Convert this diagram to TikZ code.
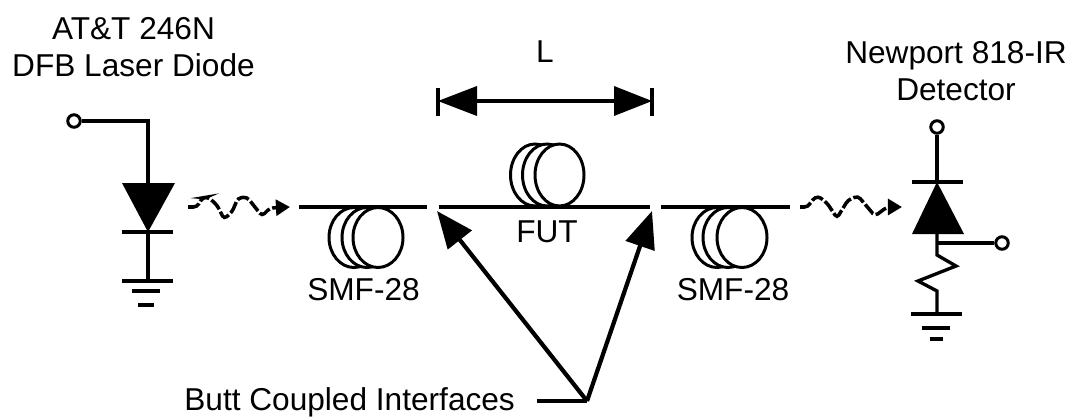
\documentclass[tikz,border=0pt]{standalone}
\usepackage{fontspec}
\setmainfont{Liberation Sans}
\usetikzlibrary{arrows.meta}
\tikzset{
  wire/.style={line width=1.9pt},
  bar/.style={line width=1.8pt},
  terminal/.style={circle,draw,line width=1.7pt,inner sep=0pt,minimum size=0.25cm,fill=white},
  solid tip/.style={fill=black,draw=none},
  spool/.style={line width=1.7pt,fill=white},
  label/.style={font=\fontsize{18}{21}\selectfont,align=center,inner sep=0pt},
  beam/.style={line width=2pt,dash pattern=on 7pt off 1.5pt,rounded corners=2pt},
  pointer/.style={line width=2.4pt,-{Triangle[length=21pt,width=17pt]}},
}
\begin{document}
\begin{tikzpicture}[x=0.02cm,y=-0.02cm]
  \useasboundingbox (0,0) rectangle (1070,416);

  % source
  \node[label] (source) at (133.5,47) {AT\&T 246N\\DFB Laser Diode};
  \node[terminal] (srcin) at (74,121) {};
  \coordinate (srctop) at (148,183);
  \coordinate (srcapex) at (148,232);
  \coordinate (srcgnd) at (148,281);
  \draw[wire] (srcin) -- (148,121) -- (srctop);
  \fill[solid tip] (122,183) -- (175,183) -- (srcapex) -- cycle;
  \draw[bar] (122,232) -- (173,232);
  \draw[wire] (srcapex) -- (srcgnd);
  \draw[bar] (122,281) -- (173,281);
  \draw[bar] (132,291) -- (160,291);
  \draw[bar] (138,305) -- (154,305);

  % detector
  \node[label] (det) at (956,71) {Newport 818-IR\\Detector};
  \node[terminal] (detout) at (937,127) {};
  \node[terminal] (detsig) at (1002,243) {};
  \coordinate (dettop) at (937,182);
  \coordinate (detbase) at (937,234);
  \coordinate (detgnd) at (937,314);
  \draw[wire] (detout) -- (dettop);
  \draw[bar] (912,182) -- (963,182);
  \fill[solid tip] (dettop) -- (964,234) -- (912,234) -- cycle;
  \draw[wire] (detsig) -- (937,243);
  \draw[wire] (detbase) -- (937,255) -- (956,266) -- (918,281) -- (937,291) -- (detgnd);
  \draw[bar] (911,314) -- (962,314);
  \draw[bar] (922,328) -- (950,328);
  \draw[bar] (930,339) -- (943,339);

  % spools
  \foreach \sx in {354,367,378} \draw[spool] (\sx,237.5) ellipse (25 and 30);
  \foreach \sx in {535,547,559.5} \draw[spool] (\sx,175) ellipse (24.5 and 31);
  \foreach \sx in {717,728,742} \draw[spool] (\sx,237.5) ellipse (25 and 30);

  % fibers
  \coordinate (fibera) at (299,207);
  \coordinate (fiberb) at (427,207);
  \coordinate (fiberc) at (439,207);
  \coordinate (fiberd) at (650,207);
  \coordinate (fibere) at (661,207);
  \coordinate (fiberf) at (790,207);
  \draw[wire] (fibera) -- (fiberb);
  \draw[wire] (fiberc) -- (fiberd);
  \draw[wire] (fibere) -- (fiberf);

  % labels
  \node[label] (smfl) at (363.5,289.5) {SMF-28};
  \node[label] (fut) at (547,232) {FUT};
  \node[label] (smfr) at (733,289.5) {SMF-28};
  \node[label] (len) at (545,52) {L};
  \node[label,anchor=west] (butt) at (184,402) {Butt Coupled Interfaces};

  % length marker
  \coordinate (lenl) at (438,101);
  \coordinate (lenr) at (652,101);
  \draw[bar] (438,88) -- (438,116);
  \draw[bar] (652,88) -- (652,116);
  \draw[wire] (475,101) -- (615,101);
  \fill[solid tip] (lenl) -- (477,86) -- (477,116) -- cycle;
  \fill[solid tip] (lenr) -- (614,86) -- (614,116) -- cycle;

  % beams
  \draw[beam,-{Triangle[length=8pt,width=9pt]}] (188,207) -- (197,207) -- (202,198) -- (208,197) -- (217,205) -- (224,219) -- (232,212) -- (238,198) -- (247,197) -- (262,216) -- (270,208) -- (290,207);
  \draw[beam,-{Triangle[length=8pt,width=9pt]}] (800,207) -- (808,207) -- (812,200) -- (818,196) -- (827,203) -- (837,218) -- (848,200) -- (858,196) -- (875,216) -- (887,207) -- (902,207);

  % butt coupling arrows
  \coordinate (joint) at (587,401);
  \coordinate (gapl) at (437,211);
  \coordinate (gapr) at (652,211);
  \draw[bar] (537,401) -- (joint);
  \draw[pointer] (joint) -- (gapl);
  \draw[pointer] (joint) -- (gapr);
\end{tikzpicture}
\end{document}
